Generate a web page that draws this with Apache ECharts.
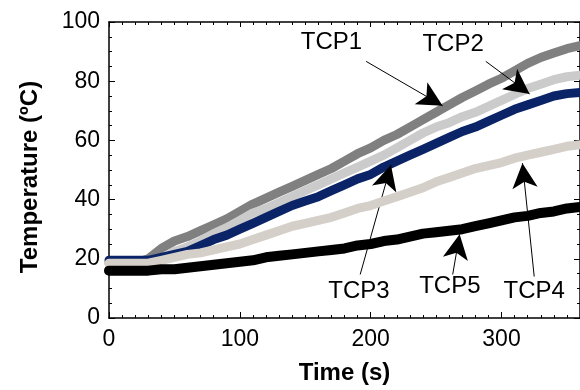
<!DOCTYPE html>
<html>
<head>
<meta charset="utf-8">
<script src="https://cdn.jsdelivr.net/npm/echarts@6/dist/echarts.min.js"></script>
<style>
  html, body { margin: 0; padding: 0; background: #fff; }
  #chart { width: 580px; height: 390px; }
</style>
</head>
<body>
<div id="chart"></div>
<script>
// time axis, one reading every 10 s
const times = [0,10,20,30,40,50,60,70,80,90,100,110,120,130,140,150,160,170,180,190,200,210,220,230,240,250,260,270,280,290,300,310,320,330,340,350,360];

const tcp1 = [18.5,18.5,18.5,20,23.5,26,27.5,29.5,31.5,33.5,36,38.5,40.5,42.5,44.5,46.5,48.5,50.5,53,55.5,57.5,60,62,64.5,67,69.5,72,74.5,76.7,79,81,83.5,86,88,89.5,91,92];
const tcp2 = [18.5,18.5,18.5,18.5,20,22.5,24,26,28.5,30.5,33,35.5,37,39,41,43,45,47,49,51,53,55,57.5,60,62.5,64.5,66,68,69.5,71.5,73.5,75.5,77.5,79,80.5,81.5,82];
const tcp3 = [19.5,19.5,19.5,19.5,20.5,21.5,22.5,24.5,26.5,28,30,32,34,36,38,39.5,41,43,45,47,48.5,51,53,55,57,59,61,63,64.5,66.5,68.5,70.5,72,73.5,75,75.8,76.2];
const tcp4 = [18.5,18.5,18.5,18.5,19.5,20.5,21.5,22,23,24,25,26.5,28,29.5,31,32,33,34,35.5,37,38,39.5,41,42.5,44,46,47.5,49,50.5,51.5,52.5,54,55,56,57,58,58.5];
const tcp5 = [16,16,16,16,16.5,16.5,17,17.5,18,18.5,19,19.5,20.5,21,21.5,22,22.5,23,23.5,24.5,25,26,26.5,27.5,28.5,29,29.5,30,31,32,33,34,34.5,35.5,36,37,37.5];

const seriesNames = ['TCP1', 'TCP2', 'TCP3', 'TCP4', 'TCP5'];
const seriesValues = [tcp1, tcp2, tcp3, tcp4, tcp5];
const seriesColors = ['#808080', '#cbcbcb', '#0b2467', '#d4d0c9', '#000000'];
const seriesWidths = [9, 9, 9, 9, 10];

// callout text positions [t, T] and arrows [from, to] in data units
const labelPos = [[170, 93], [263, 92.3], [191, 9], [325, 9], [260.5, 10.7]];
const arrows = [
    [[196.5, 86.7], [255, 71.7]],
    [[288, 86.7], [321.5, 75.7]],
    [[192, 14.7], [215.5, 51.7]],
    [[325, 14], [316, 52.3]],
    [[262.7, 14.7], [268, 28.3]]
];

const font = "'Liberation Sans', Arial, sans-serif";
const chart = echarts.init(document.getElementById('chart'));

function xAxisDef(pos, interval, len, withLabels) {
    return {
        type: 'value', position: pos, min: 0, max: 360, interval: interval,
        axisLine: { show: withLabels, onZero: false, lineStyle: { color: '#000', width: 1.5 } },
        axisTick: { show: true, inside: true, length: len, lineStyle: { color: '#000', width: 1 } },
        axisLabel: {
            show: withLabels && pos === 'bottom', showMaxLabel: false,
            color: '#000', fontSize: 23, fontFamily: font, margin: 10
        },
        splitLine: { show: false }
    };
}

function yAxisDef(pos, withLabels) {
    return {
        type: 'value', position: pos, min: 0, max: 100, interval: 20,
        axisLine: { show: true, onZero: false, lineStyle: { color: '#000', width: 1.5 } },
        axisTick: { show: true, inside: true, length: 6, lineStyle: { color: '#000', width: 1 } },
        minorTick: { show: true, splitNumber: 4, length: 3, lineStyle: { color: '#000', width: 1 } },
        axisLabel: { show: withLabels, color: '#000', fontSize: 23, fontFamily: font, margin: 9 },
        splitLine: { show: false }
    };
}

const xMain = xAxisDef('bottom', 100, 6, true);
xMain.name = 'Time (s)';
xMain.nameLocation = 'middle';
xMain.nameGap = 43;
xMain.nameTextStyle = { color: '#000', fontSize: 24, fontWeight: 'bold', fontFamily: font };

const series = seriesNames.map(function (name, i) {
    return {
        name: name,
        type: 'line',
        data: times.map(function (t, j) { return [t, seriesValues[i][j]]; }),
        showSymbol: false,
        symbol: 'none',
        lineStyle: { color: seriesColors[i], width: seriesWidths[i], cap: 'round', join: 'round' },
        silent: true,
        z: 2 + i
    };
});

series.push({
    name: 'callouts',
    type: 'scatter',
    symbolSize: 0,
    silent: true,
    z: 10,
    itemStyle: { opacity: 1 },
    data: seriesNames.map(function (name, i) { return { name: name, value: labelPos[i] }; }),
    label: {
        show: true, position: 'inside', formatter: '{b}', opacity: 1,
        color: '#000', fontSize: 24, fontFamily: font
    },
    markLine: {
        silent: true,
        animation: false,
        label: { show: false },
        lineStyle: { color: '#000', width: 1, type: 'solid', opacity: 1 },
        data: arrows.map(function (a) {
            return [
                { coord: a[0], symbol: 'none' },
                { coord: a[1], symbol: 'arrow', symbolSize: [19, 25] }
            ];
        })
    }
});

chart.setOption({
    animation: false,
    backgroundColor: '#fff',
    grid: { left: 109, top: 22, width: 473, height: 300, containLabel: false },
    xAxis: [
        xMain,
        xAxisDef('bottom', 10, 3, false),
        xAxisDef('top', 100, 5, true),
        xAxisDef('top', 10, 3, false)
    ],
    yAxis: [yAxisDef('left', true), yAxisDef('right', false)],
    graphic: [{
        type: 'text',
        x: 30, y: 177,
        rotation: Math.PI / 2,
        style: {
            text: 'Temperature (ºC)',
            fill: '#000',
            font: 'bold 24px ' + font,
            align: 'center',
            verticalAlign: 'middle'
        }
    }],
    series: series
});
</script>
</body>
</html>
